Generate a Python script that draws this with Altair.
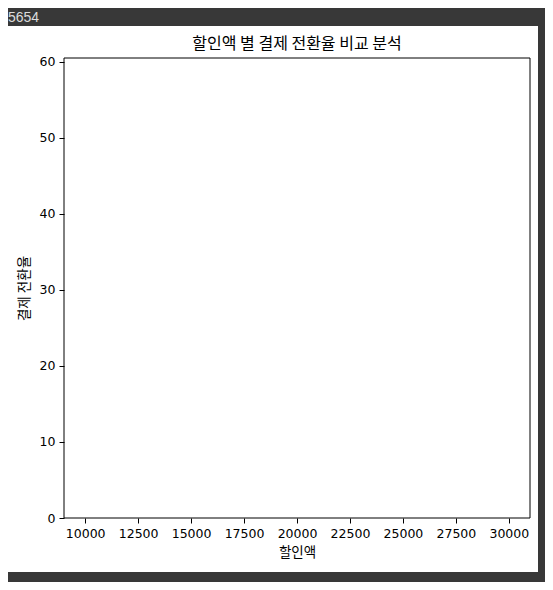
import altair as alt
import pandas as pd

# The reference chart shows empty axes: no data points are drawn.
discount_amounts = []      # 할인액
conversion_rates = []      # 결제 전환율

x_ticks = [10000, 12500, 15000, 17500, 20000, 22500, 25000, 27500, 30000]
y_ticks = [0, 10, 20, 30, 40, 50, 60]
x_domain = [9000, 31000]
y_domain = [0, 60.5]

chart_title = "할인액 별 결제 전환율 비교 분석"
badge_text = "5654"

FONT = "Noto Sans CJK KR"
NUM_FONT = "DejaVu Sans"

df = pd.DataFrame({"할인액": pd.Series(discount_amounts, dtype=float),
                   "결제 전환율": pd.Series(conversion_rates, dtype=float)})

one = alt.Data(values=[{}])

panel = alt.Chart(one).mark_rect(
    fill="white", stroke=None, clip=False
).encode(
    x=alt.value(-56), x2=alt.value(474), y=alt.value(-32), y2=alt.value(514)
)

badge = alt.Chart(one).mark_text(
    text=badge_text, font="Liberation Sans", fontSize=14, color="#dcdcdc",
    align="left", baseline="alphabetic", clip=False
).encode(x=alt.value(-56), y=alt.value(-36))

title = alt.Chart(one).mark_text(
    text=chart_title, font=FONT, fontSize=16, color="black",
    align="center", baseline="middle", clip=False
).encode(x=alt.value(233), y=alt.value(-14))

points = alt.Chart(df).mark_point(color="#1f77b4").encode(
    x=alt.X("할인액:Q", title="할인액",
            scale=alt.Scale(domain=x_domain, nice=False, zero=False),
            axis=alt.Axis(values=x_ticks, format="d", zindex=1)),
    y=alt.Y("결제 전환율:Q", title="결제 전환율",
            scale=alt.Scale(domain=y_domain, nice=False),
            axis=alt.Axis(values=y_ticks, format="d", zindex=1)),
)

frame = alt.Chart(one).mark_rect(
    fill=None, stroke="black", strokeWidth=1
).encode(
    x=alt.value(0), x2=alt.value("width"), y=alt.value(0), y2=alt.value("height")
)

chart = alt.layer(panel, badge, title, points, frame).properties(
    width=466, height=460,
    autosize=alt.AutoSizeParams(type="none"),
    padding={"left": 56, "top": 50, "right": 15, "bottom": 64},
    background="#383838",
).configure_view(stroke=None).configure_axis(
    grid=False, domain=False, tickColor="black", tickSize=5, tickWidth=1,
    labelFont=NUM_FONT, labelFontSize=12.5, labelColor="black", labelPadding=4,
    titleFont=FONT, titleFontSize=13.5, titleFontWeight="normal", titleColor="black",
).configure_axisX(titlePadding=6).configure_axisY(titlePadding=8)

chart.save("out.html", embed_options={"renderer": "svg", "actions": False})
